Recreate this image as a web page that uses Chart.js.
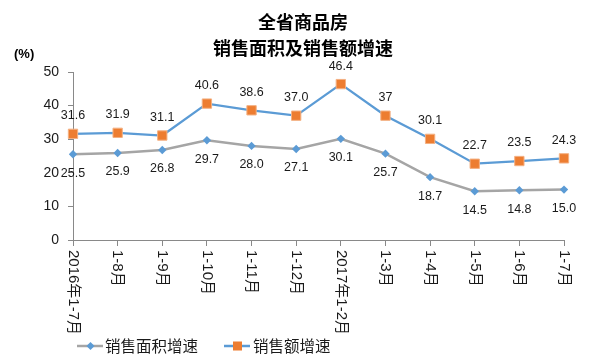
<!DOCTYPE html>
<html><head><meta charset="utf-8">
<script src="https://cdn.jsdelivr.net/npm/chart.js@4.4.0/dist/chart.umd.min.js"></script>
<style>html,body{margin:0;padding:0;background:#fff}#wrap{width:609px;height:363px}</style>
</head><body><div id="wrap"><canvas id="c" width="609" height="363"></canvas></div>
<script>
const categories = ['2016年1-7月','1-8月','1-9月','1-10月','1-11月','1-12月','2017年1-2月','1-3月','1-4月','1-5月','1-6月','1-7月'];
const areaGrowth = [25.5,25.9,26.8,29.7,28.0,27.1,30.1,25.7,18.7,14.5,14.8,15.0];
const salesGrowth = [31.6,31.9,31.1,40.6,38.6,37.0,46.4,37,30.1,22.7,23.5,24.3];
const areaLabels = ['25.5','25.9','26.8','29.7','28.0','27.1','30.1','25.7','18.7','14.5','14.8','15.0'];
const salesLabels = ['31.6','31.9','31.1','40.6','38.6','37.0','46.4','37','30.1','22.7','23.5','24.3'];
const seriesNames = ['销售面积增速','销售额增速'];
const titleLines = ['全省商品房','销售面积及销售额增速'];
const yMin = 0, yMax = 50, yStep = 10;

const LATIN = '"Liberation Sans", "Noto Sans CJK SC", sans-serif';
const CJK = '"Noto Sans CJK SC", "Liberation Sans", sans-serif';
const TXT = '#1a1a1a';
const AXIS = '#898989';

const deco = {
  id: 'deco',
  afterDatasetsDraw(chart) {
    const ctx = chart.ctx;
    ctx.save();
    ctx.fillStyle = TXT;
    ctx.font = '12.5px ' + LATIN;
    ctx.textAlign = 'center';
    ctx.textBaseline = 'middle';
    const m0 = chart.getDatasetMeta(0), m1 = chart.getDatasetMeta(1);
    m0.data.forEach((p, i) => ctx.fillText(areaLabels[i], p.x, p.y + 19));
    m1.data.forEach((p, i) => ctx.fillText(salesLabels[i], p.x, p.y - 18));
    ctx.restore();
  },
  afterDraw(chart) {
    const ctx = chart.ctx;
    ctx.save();
    ctx.fillStyle = '#000';
    ctx.textAlign = 'center';
    ctx.textBaseline = 'middle';
    ctx.font = 'bold 18px ' + CJK;
    ctx.fillText(titleLines[0], 303, 22);
    ctx.fillText(titleLines[1], 303, 48);
    ctx.font = 'bold 13px ' + LATIN;
    ctx.textAlign = 'left';
    ctx.fillText('(%)', 14, 54);
    const xs = chart.scales.x;
    ctx.fillStyle = TXT;
    ctx.font = '15px ' + LATIN;
    categories.forEach((c, i) => {
      const x = xs.getPixelForTick(i);
      ctx.save();
      ctx.translate(x, 250);
      ctx.rotate(Math.PI / 2);
      ctx.textAlign = 'left';
      ctx.textBaseline = 'middle';
      ctx.fillText(c, 0, 0);
      ctx.restore();
    });
    const ly = 346;
    ctx.lineWidth = 2.5;
    ctx.strokeStyle = '#A5A5A5';
    ctx.beginPath(); ctx.moveTo(77, ly); ctx.lineTo(103, ly); ctx.stroke();
    ctx.fillStyle = '#5B9BD5';
    ctx.beginPath(); ctx.moveTo(90.5, ly - 4); ctx.lineTo(94.5, ly); ctx.lineTo(90.5, ly + 4); ctx.lineTo(86.5, ly); ctx.closePath(); ctx.fill();
    ctx.strokeStyle = '#5B9BD5';
    ctx.beginPath(); ctx.moveTo(224, ly); ctx.lineTo(250, ly); ctx.stroke();
    ctx.fillStyle = '#ED7D31';
    ctx.fillRect(233, ly - 4.5, 9, 9);
    ctx.fillStyle = TXT;
    ctx.font = '15.5px ' + CJK;
    ctx.textAlign = 'left';
    ctx.textBaseline = 'middle';
    ctx.fillText(seriesNames[0], 105, ly);
    ctx.fillText(seriesNames[1], 253, ly);
    ctx.restore();
  }
};

new Chart(document.getElementById('c'), {
  type: 'line',
  data: {
    labels: categories,
    datasets: [
      { label: seriesNames[0], data: areaGrowth, borderColor: '#A5A5A5', borderWidth: 2.5,
        pointStyle: 'rectRot', pointRadius: 4.2, pointBackgroundColor: '#5B9BD5', pointBorderColor: '#5B9BD5', pointBorderWidth: 0, tension: 0 },
      { label: seriesNames[1], data: salesGrowth, borderColor: '#5B9BD5', borderWidth: 2.25,
        pointStyle: 'rect', pointRadius: 6.6, pointBackgroundColor: '#ED7D31', pointBorderColor: '#F4B183', pointBorderWidth: 1, tension: 0 }
    ]
  },
  options: {
    responsive: false,
    devicePixelRatio: 1,
    animation: false,
    layout: { padding: { left: 0, right: 45, top: 72, bottom: 117 } },
    plugins: { legend: { display: false }, title: { display: false }, tooltip: { enabled: false } },
    scales: {
      x: {
        offset: false,
        ticks: { display: false },
        grid: { display: true, drawOnChartArea: false, drawTicks: true, tickLength: 6, color: AXIS },
        border: { display: true, color: AXIS, width: 1 }
      },
      y: {
        min: yMin, max: yMax,
        ticks: { stepSize: yStep, color: TXT, font: { family: LATIN, size: 14 }, padding: 9 },
        grid: { display: true, drawOnChartArea: false, drawTicks: true, tickLength: 5, color: AXIS },
        border: { display: true, color: AXIS, width: 1 },
        afterFit(s) { s.width = 73; }
      }
    }
  },
  plugins: [deco]
});
</script>
</body></html>
